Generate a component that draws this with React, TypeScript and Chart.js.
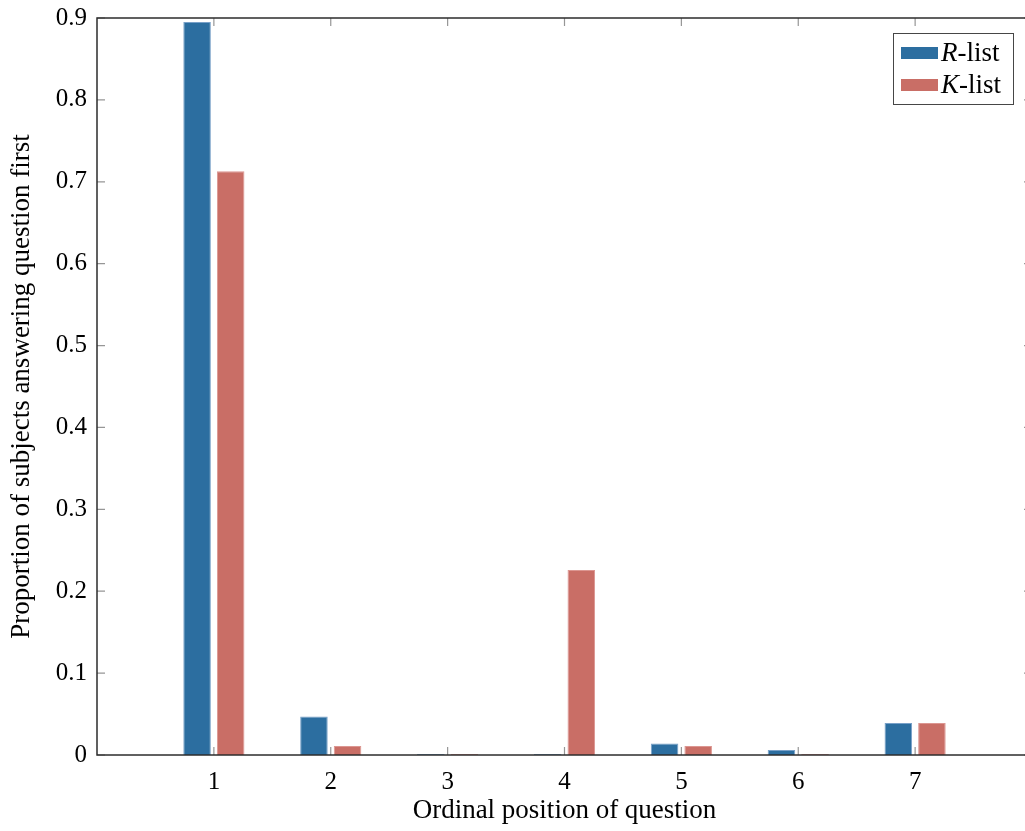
import React, { useEffect, useRef } from "react";
import { Chart, registerables } from "chart.js";

Chart.register(...registerables);

const categories = [1, 2, 3, 4, 5, 6, 7];
const rList = [0.895, 0.047, 0, 0, 0.014, 0.006, 0.039];
const kList = [0.713, 0.011, 0, 0.226, 0.011, 0, 0.039];
const yTicks = [0, 0.1, 0.2, 0.3, 0.4, 0.5, 0.6, 0.7, 0.8, 0.9];
const seriesNames = [
  { italic: "R", rest: "-list" },
  { italic: "K", rest: "-list" },
];

const BLUE = "rgb(44,110,160)";
const RED = "rgb(201,110,102)";
const FONT = "'Liberation Serif', 'DejaVu Serif', serif";

const framePlugin = {
  id: "frameTicks",
  afterDatasetsDraw(chart: any) {
    const { ctx, chartArea, scales } = chart;
    const { left, right, top, bottom } = chartArea;
    const x = scales.x;
    const y = scales.y;
    ctx.save();
    ctx.strokeStyle = "rgb(150,150,150)";
    ctx.lineWidth = 1.2;
    const tl = 8;
    ctx.beginPath();
    categories.forEach((c) => {
      const px = x.getPixelForValue(c);
      ctx.moveTo(px, bottom);
      ctx.lineTo(px, bottom - tl);
      ctx.moveTo(px, top);
      ctx.lineTo(px, top + tl);
    });
    yTicks.forEach((v) => {
      const py = y.getPixelForValue(v);
      ctx.moveTo(left, py);
      ctx.lineTo(left + tl, py);
      ctx.moveTo(right, py);
      ctx.lineTo(right - tl, py);
    });
    ctx.stroke();
    ctx.strokeStyle = "rgb(45,45,45)";
    ctx.lineWidth = 1.5;
    ctx.strokeRect(left, top, right - left, bottom - top);

    // legend
    const bx = 893.5;
    const by = 33.5;
    const bw = 120;
    const bh = 71;
    ctx.fillStyle = "#fff";
    ctx.fillRect(bx, by, bw, bh);
    ctx.strokeStyle = "rgb(70,70,70)";
    ctx.lineWidth = 1;
    ctx.strokeRect(bx, by, bw, bh);
    const colors = [BLUE, RED];
    const rows = [53, 85];
    seriesNames.forEach((s, i) => {
      ctx.fillStyle = colors[i];
      ctx.fillRect(901, rows[i] - 6, 37, 12);
      ctx.fillStyle = "#000";
      ctx.textBaseline = "alphabetic";
      ctx.textAlign = "left";
      ctx.font = `italic 27px ${FONT}`;
      const base = rows[i] + 8;
      ctx.fillText(s.italic, 941, base);
      const w = ctx.measureText(s.italic).width;
      ctx.font = `27px ${FONT}`;
      ctx.fillText(s.rest, 941 + w, base);
    });
    ctx.restore();
  },
};

export default function App() {
  const ref = useRef<HTMLCanvasElement | null>(null);
  useEffect(() => {
    if (!ref.current) return;
    const chart = new Chart(ref.current, {
      type: "bar",
      data: {
        datasets: [
          {
            label: "R-list",
            data: categories.map((c, i) => ({ x: c, y: rList[i] })),
            backgroundColor: BLUE,
            borderColor: "rgb(120,160,200)",
            borderWidth: 1,
            minBarLength: 1,
          },
          {
            label: "K-list",
            data: categories.map((c, i) => ({ x: c, y: kList[i] })),
            backgroundColor: RED,
            borderColor: "rgb(220,150,145)",
            borderWidth: 1,
            minBarLength: 1,
          },
        ],
      },
      options: {
        responsive: false,
        animation: false,
        categoryPercentage: 0.575,
        barPercentage: 0.82,
        layout: { padding: { top: 18, right: 8, left: 0, bottom: 0 } },
        plugins: {
          legend: { display: false },
          tooltip: { enabled: false },
        },
        scales: {
          x: {
            type: "linear",
            min: 0,
            max: 8,
            offset: false,
            grid: { display: false, drawTicks: false },
            border: { display: false },
            ticks: {
              stepSize: 1,
              padding: 12,
              maxRotation: 0,
              autoSkip: false,
              color: "#000",
              font: { family: FONT, size: 25 },
              callback: (v: any) => (v === 0 || v === 8 ? "" : String(v)),
            },
            title: {
              display: true,
              text: "Ordinal position of question",
              color: "#000",
              font: { family: FONT, size: 27 },
              padding: { top: 0, bottom: 4 },
            },
            afterFit: (s: any) => {
              s.height = 76;
              s.paddingLeft = 0;
              s.paddingRight = 0;
            },
          },
          y: {
            min: 0,
            max: 0.9,
            grid: { display: false, drawTicks: false },
            border: { display: false },
            ticks: {
              stepSize: 0.1,
              padding: 10,
              color: "#000",
              font: { family: FONT, size: 25 },
              callback: (v: any) => (v === 0 ? "0" : Number(v).toFixed(1)),
            },
            title: {
              display: true,
              text: "Proportion of subjects answering question first",
              color: "#000",
              font: { family: FONT, size: 27 },
              padding: { top: 6, bottom: 0 },
            },
            afterFit: (s: any) => {
              s.width = 97;
              s.paddingTop = 0;
              s.paddingBottom = 0;
            },
          },
        },
      },
      plugins: [framePlugin],
    });
    return () => chart.destroy();
  }, []);
  return (
    <div
      style={{
        position: "absolute",
        left: 0,
        top: 0,
        width: 1025,
        height: 831,
        overflow: "hidden",
        background: "#fff",
      }}
    >
      <canvas ref={ref} width={1040} height={831} />
    </div>
  );
}
